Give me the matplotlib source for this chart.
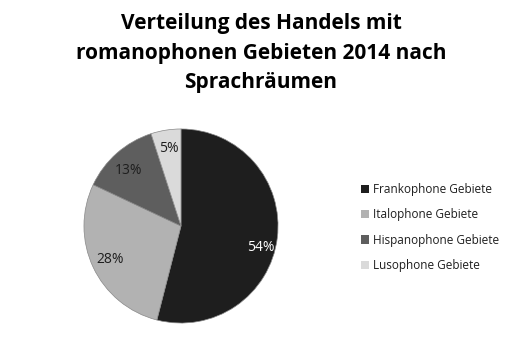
import matplotlib.pyplot as plt

categories = ['Frankophone Gebiete', 'Italophone Gebiete', 'Hispanophone Gebiete', 'Lusophone Gebiete']
values = [54, 28, 13, 5]
colors = ['#1e1e1e', '#b2b2b2', '#5e5e5e', '#dadada']
label_colors = ['white', '#1e1e1e', '#1e1e1e', '#1e1e1e']

plt.rcParams['font.family'] = ['Open Sans', 'DejaVu Sans']

W, H = 522, 350
fig = plt.figure(figsize=(W/100, H/100), dpi=100)
fig.patch.set_facecolor('white')

fig.text(0.5, 1 - 53/H, 'Verteilung des Handels mit\nromanophonen Gebieten 2014 nach\nSprachräumen',
         ha='center', va='center', fontsize=15, fontweight='bold', linespacing=1.55, color='black')

cx, cy, r = 181, 350 - 226, 98
ax = fig.add_axes([(cx - r)/W, (cy - r)/H, 2*r/W, 2*r/H])
wedges, texts, autotexts = ax.pie(values, colors=colors, startangle=90, counterclock=False,
                                  autopct='%d%%', pctdistance=0.81, radius=1,
                                  wedgeprops=dict(linewidth=0.5, edgecolor='#888888'),
                                  textprops=dict(fontsize=10))
for t, c in zip(autotexts, label_colors):
    t.set_color(c)
# Excel "best fit" puts the big label a bit lower
x0, y0 = autotexts[0].get_position()
autotexts[0].set_position((x0 + 0.02, y0 - 0.12))
x2, y2 = autotexts[2].get_position()
autotexts[2].set_position((x2, y2 - 0.04))
ax.set_xlim(-1.01, 1.01); ax.set_ylim(-1.01, 1.01)
ax.set_aspect('equal')
ax.axis('off')

leg = fig.legend(wedges, categories, loc='upper left', bbox_to_anchor=(355/W, 1 - 177/H),
                 frameon=False, fontsize=8.5, handlelength=0.7, handleheight=0.7,
                 handletextpad=0.3, labelspacing=1.05, borderpad=0)
for h in leg.legend_handles:
    h.set_linewidth(0)
for t in leg.get_texts():
    t.set_color('#1e1e1e')

fig.savefig('out.png', dpi=100, facecolor='white')
